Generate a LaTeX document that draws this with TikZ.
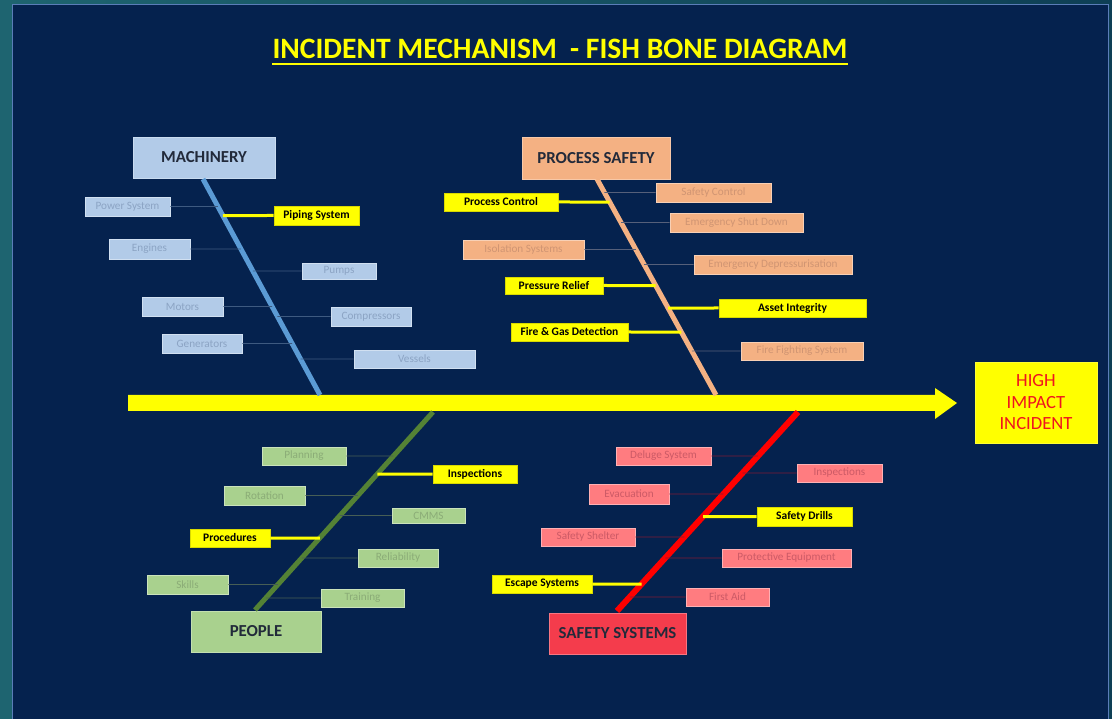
\documentclass[tikz,border=0pt]{standalone}
\usepackage{fontspec}
\setmainfont{Carlito}
\usetikzlibrary{calc}

% palette
\definecolor{panelnavy}{HTML}{05224E}
\definecolor{outerteal}{HTML}{1E6470}
\definecolor{outerdark}{HTML}{0E3F55}
\definecolor{panelrim}{HTML}{5A7DB8}
\definecolor{hiyellow}{HTML}{FFFF00}
\definecolor{catdark}{HTML}{222A3A}
\definecolor{effred}{HTML}{F0141E}
% machinery
\definecolor{mfill}{HTML}{B2CBE8}
\definecolor{mtext}{HTML}{8CA4C4}
\definecolor{mbone}{HTML}{5B9BD5}
\definecolor{mline}{HTML}{3E5A80}
% process safety
\definecolor{pfill}{HTML}{F4B183}
\definecolor{ptext}{HTML}{D09573}
\definecolor{pline}{HTML}{56607A}
% people
\definecolor{gfill}{HTML}{A9D18E}
\definecolor{gtext}{HTML}{8BAC77}
\definecolor{gbone}{HTML}{548235}
\definecolor{gline}{HTML}{475E55}
% safety systems
\definecolor{sfill}{HTML}{FF7C80}
\definecolor{stext}{HTML}{CC5A66}
\definecolor{sbone}{HTML}{FF0000}
\definecolor{sline}{HTML}{7E1A36}
\definecolor{scat}{HTML}{F43C4C}

\tikzset{
  item/.style={inner sep=0pt, draw=#1!60!white, line width=0.7pt,
    fill=#1, font=\fontsize{11.2}{13}\selectfont},
  hot/.style={inner sep=0pt, fill=hiyellow, draw=hiyellow!85!black, line width=0.6pt,
    text=black, font=\bfseries\fontsize{11.5}{13}\selectfont},
  cat/.style={inner sep=0pt, draw=#1!70!white, line width=0.8pt, fill=#1,
    text=catdark, font=\bfseries\fontsize{16.8}{18}\selectfont},
  twig/.style={line width=0.8pt, draw=#1},
  hottwig/.style={line width=3pt, draw=hiyellow},
  bone/.style={line width=5pt, draw=#1},
}

\begin{document}
\begin{tikzpicture}[x=1pt, y=-1pt]
  % backdrop and panel
  \useasboundingbox (0,0) rectangle (1112,719);
  \shade[left color=outerteal, right color=outerdark] (0,0) rectangle (1112,719);
  \fill[panelnavy] (12,4) rectangle (1108,725);
  \draw[panelrim, line width=0.8pt] (12,725) -- (12,4) -- (1108,4) -- (1108,725);

  % title
  \node[inner sep=0pt, anchor=base, text=hiyellow,
        font=\bfseries\fontsize{29.6}{34}\selectfont] (title) at (560,59)
        {INCIDENT MECHANISM\ \ - FISH BONE DIAGRAM};
  \draw[hiyellow, line width=1.8pt] ([yshift=-5pt]title.base west) -- ([yshift=-5pt]title.base east);

  % spine and effect
  \coordinate (tail) at (128,403);
  \coordinate (head) at (957,403);
  \fill[hiyellow] ($(tail)+(0,-8)$) -- ($(head)+(-22,-8)$) -- ($(head)+(-22,-15)$) -- (head)
        -- ($(head)+(-22,16)$) -- ($(head)+(-22,8)$) -- ($(tail)+(0,8)$) -- cycle;
  \node[inner sep=0pt, fill=hiyellow, draw=hiyellow!80!white, minimum width=122pt, minimum height=81pt,
        text=effred, align=center, font=\fontsize{18.6}{21.5}\selectfont] (effect) at (1036,402.5)
        {HIGH\\IMPACT\\INCIDENT};

  % ---------------- MACHINERY ----------------
  \node[cat=mfill, minimum width=142pt, minimum height=41pt] (mach) at (204,157.5) {MACHINERY};
  \coordinate (mtop) at (203,179);
  \coordinate (mbot) at (320,395);
  \draw[bone=mbone] (mtop) -- (mbot);
  \node[item=mfill, text=mtext, minimum width=85pt, minimum height=19pt] (m1) at (127.5,206.5) {Power System};
  \node[hot, minimum width=85pt, minimum height=19pt] (m2) at (316.5,215.5) {Piping System};
  \node[item=mfill, text=mtext, minimum width=81pt, minimum height=20pt] (m3) at (149.5,249) {Engines};
  \node[item=mfill, text=mtext, minimum width=74pt, minimum height=16pt] (m4) at (339,271) {Pumps};
  \node[item=mfill, text=mtext, minimum width=81pt, minimum height=19pt] (m5) at (182.5,306.5) {Motors};
  \node[item=mfill, text=mtext, minimum width=80pt, minimum height=19pt] (m6) at (371,316.5) {Compressors};
  \node[item=mfill, text=mtext, minimum width=80pt, minimum height=19pt] (m7) at (202,343.5) {Generators};
  \node[item=mfill, text=mtext, minimum width=121pt, minimum height=18pt] (m8) at (414.5,359) {Vessels};
  \draw[twig=mline] (m1.east) -- (intersection of mtop--mbot and m1.west--m1.east);
  \draw[hottwig] (m2.west) -- (intersection of mtop--mbot and m2.west--m2.east);
  \draw[twig=mline] (m3.east) -- (intersection of mtop--mbot and m3.west--m3.east);
  \draw[twig=mline] (m4.west) -- (intersection of mtop--mbot and m4.west--m4.east);
  \draw[twig=mline] (m5.east) -- (intersection of mtop--mbot and m5.west--m5.east);
  \draw[twig=mline] (m6.west) -- (intersection of mtop--mbot and m6.west--m6.east);
  \draw[twig=mline] (m7.east) -- (intersection of mtop--mbot and m7.west--m7.east);
  \draw[twig=mline] (m8.west) -- (intersection of mtop--mbot and m8.west--m8.east);

  % ---------------- PROCESS SAFETY ----------------
  \node[cat=pfill, minimum width=148pt, minimum height=42pt] (proc) at (596,158) {PROCESS SAFETY};
  \coordinate (ptop) at (597,179);
  \coordinate (pbot) at (716,395);
  \draw[bone=pfill] (ptop) -- (pbot);
  \node[item=pfill, text=ptext, minimum width=115pt, minimum height=19pt] (p1) at (713.5,192.5) {Safety Control};
  \node[hot, minimum width=114pt, minimum height=18pt] (p2) at (501,202) {Process Control};
  \node[item=pfill, text=ptext, minimum width=133pt, minimum height=19pt] (p3) at (736.5,222.5) {Emergency Shut Down};
  \node[item=pfill, text=ptext, minimum width=121pt, minimum height=19pt] (p4) at (523.5,249.5) {Isolation Systems};
  \node[item=pfill, text=ptext, minimum width=158pt, minimum height=19pt] (p5) at (773,264.5) {Emergency Depressurisation};
  \node[hot, minimum width=98pt, minimum height=17pt] (p6) at (554,285.5) {Pressure Relief};
  \node[hot, minimum width=147pt, minimum height=18pt] (p7) at (792.5,308) {Asset Integrity};
  \node[hot, minimum width=117pt, minimum height=18pt] (p8) at (569.5,332) {Fire \& Gas Detection};
  \node[item=pfill, text=ptext, minimum width=122pt, minimum height=18pt] (p9) at (802,351) {Fire Fighting System};
  \draw[twig=pline] (p1.west) -- (intersection of ptop--pbot and p1.west--p1.east);
  \draw[hottwig] (p2.east) -- (intersection of ptop--pbot and p2.west--p2.east);
  \draw[twig=pline] (p3.west) -- (intersection of ptop--pbot and p3.west--p3.east);
  \draw[twig=pline] (p4.east) -- (intersection of ptop--pbot and p4.west--p4.east);
  \draw[twig=pline] (p5.west) -- (intersection of ptop--pbot and p5.west--p5.east);
  \draw[hottwig] (p6.east) -- (intersection of ptop--pbot and p6.west--p6.east);
  \draw[hottwig] (p7.west) -- (intersection of ptop--pbot and p7.west--p7.east);
  \draw[hottwig] (p8.east) -- (intersection of ptop--pbot and p8.west--p8.east);
  \draw[twig=pline] (p9.west) -- (intersection of ptop--pbot and p9.west--p9.east);

  % ---------------- PEOPLE ----------------
  \node[cat=gfill, minimum width=130pt, minimum height=41pt] (people) at (256,631.5) {PEOPLE};
  \coordinate (gtop) at (433,412);
  \coordinate (gbot) at (255,610);
  \draw[bone=gbone] (gtop) -- (gbot);
  \node[item=gfill, text=gtext, minimum width=84pt, minimum height=18pt] (g1) at (304,456) {Planning};
  \node[hot, minimum width=84pt, minimum height=18pt] (g2) at (475,474) {Inspections};
  \node[item=gfill, text=gtext, minimum width=81pt, minimum height=19pt] (g3) at (264.5,495.5) {Rotation};
  \node[item=gfill, text=gtext, minimum width=73pt, minimum height=15pt] (g4) at (428.5,515.5) {CMMS};
  \node[hot, minimum width=80pt, minimum height=18pt] (g5) at (230,538) {Procedures};
  \node[item=gfill, text=gtext, minimum width=80pt, minimum height=18pt] (g6) at (398,558) {Reliability};
  \node[item=gfill, text=gtext, minimum width=81pt, minimum height=19pt] (g7) at (187.5,584.5) {Skills};
  \node[item=gfill, text=gtext, minimum width=83pt, minimum height=18pt] (g8) at (362.5,598) {Training};
  \draw[twig=gline] (g1.east) -- (intersection of gtop--gbot and g1.west--g1.east);
  \draw[hottwig] (g2.west) -- (intersection of gtop--gbot and g2.west--g2.east);
  \draw[twig=gline] (g3.east) -- (intersection of gtop--gbot and g3.west--g3.east);
  \draw[twig=gline] (g4.west) -- (intersection of gtop--gbot and g4.west--g4.east);
  \draw[hottwig] (g5.east) -- (intersection of gtop--gbot and g5.west--g5.east);
  \draw[twig=gline] (g6.west) -- (intersection of gtop--gbot and g6.west--g6.east);
  \draw[twig=gline] (g7.east) -- (intersection of gtop--gbot and g7.west--g7.east);
  \draw[twig=gline] (g8.west) -- (intersection of gtop--gbot and g8.west--g8.east);

  % ---------------- SAFETY SYSTEMS ----------------
  \node[cat=scat, minimum width=137pt, minimum height=41pt] (safety) at (617.5,633.5) {SAFETY SYSTEMS};
  \coordinate (stop) at (798,412);
  \coordinate (sbot) at (617,611);
  \draw[bone=sbone, line width=6pt] (stop) -- (sbot);
  \node[item=sfill, text=stext, minimum width=95pt, minimum height=18pt] (s1) at (663.5,456) {Deluge System};
  \node[item=sfill, text=stext, minimum width=85pt, minimum height=18pt] (s2) at (839.5,473) {Inspections};
  \node[item=sfill, text=stext, minimum width=80pt, minimum height=20pt] (s3) at (629,494) {Evacuation};
  \node[hot, minimum width=95pt, minimum height=19pt] (s4) at (804.5,516.5) {Safety Drills};
  \node[item=sfill, text=stext, minimum width=94pt, minimum height=18pt] (s5) at (588,537) {Safety Shelter};
  \node[item=sfill, text=stext, minimum width=129pt, minimum height=18pt] (s6) at (786.5,558) {Protective Equipment};
  \node[hot, minimum width=100pt, minimum height=18pt] (s7) at (542,584) {Escape Systems};
  \node[item=sfill, text=stext, minimum width=83pt, minimum height=18pt] (s8) at (727.5,597) {First Aid};
  \draw[twig=sline] (s1.east) -- (intersection of stop--sbot and s1.west--s1.east);
  \draw[twig=sline] (s2.west) -- (intersection of stop--sbot and s2.west--s2.east);
  \draw[twig=sline] (s3.east) -- (intersection of stop--sbot and s3.west--s3.east);
  \draw[hottwig] (s4.west) -- (intersection of stop--sbot and s4.west--s4.east);
  \draw[twig=sline] (s5.east) -- (intersection of stop--sbot and s5.west--s5.east);
  \draw[twig=sline] (s6.west) -- (intersection of stop--sbot and s6.west--s6.east);
  \draw[hottwig] (s7.east) -- (intersection of stop--sbot and s7.west--s7.east);
  \draw[twig=sline] (s8.west) -- (intersection of stop--sbot and s8.west--s8.east);
\end{tikzpicture}
\end{document}
